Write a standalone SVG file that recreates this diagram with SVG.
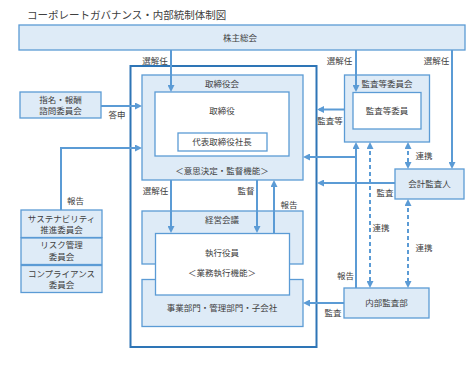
<svg xmlns="http://www.w3.org/2000/svg" width="474" height="368" viewBox="0 0 474 368">
<style>
text{font-family:"Noto Sans CJK JP","Noto Sans",sans-serif;font-size:8.5px;fill:#404040;text-anchor:middle}
.title{font-size:10.5px;text-anchor:start;fill:#404040}
.box{fill:#deebf7;stroke:#5b9bd5;stroke-width:1.3}
.wbox{fill:#ffffff;stroke:#5b9bd5;stroke-width:1.3}
.outer{fill:none;stroke:#2e75b6;stroke-width:2}
.arr{fill:none;stroke:#5b9bd5;stroke-width:2;marker-end:url(#ah)}
.dash{fill:none;stroke:#5b9bd5;stroke-width:2;stroke-dasharray:4 3;marker-start:url(#ah);marker-end:url(#ah)}
.lbl{font-size:8.5px}
</style>
<defs>
<marker id="ah" viewBox="0 0 7 7" markerWidth="7" markerHeight="7" refX="5" refY="3.5" orient="auto-start-reverse" markerUnits="userSpaceOnUse">
<path d="M0,0 L7,3.5 L0,7 z" fill="#5b9bd5"/>
</marker>
</defs>
<rect width="474" height="368" fill="#ffffff"/>
<text class="title" x="27" y="19">コーポレートガバナンス・内部統制体制図</text>

<g id="kabunushi">
<rect class="box" x="19" y="25" width="446" height="25"/>
<text x="240" y="40.5">株主総会</text>
</g>

<g id="outer-frame">
<rect class="outer" x="130.5" y="66" width="186" height="281"/>
</g>

<g id="torishimariyakukai">
<rect class="box" x="142" y="75" width="161" height="105"/>
<text x="222" y="87">取締役会</text>
<rect class="wbox" x="155" y="92" width="134" height="64"/>
<text x="222" y="114">取締役</text>
<rect class="wbox" x="178" y="133" width="89" height="18"/>
<text x="222" y="145">代表取締役社長</text>
<text x="222" y="173.5">＜意思決定・監督機能＞</text>
</g>

<g id="keiei-kaigi">
<rect class="box" x="142" y="211" width="161" height="53"/>
<text x="222" y="223">経営会議</text>
</g>

<g id="jigyo-bumon">
<rect class="box" x="142" y="279.5" width="161" height="47"/>
<text x="222" y="310.5">事業部門・管理部門・子会社</text>
</g>

<g id="shikko-yakuin">
<rect class="wbox" x="155.5" y="233.5" width="134" height="61.5"/>
<text x="222" y="256">執行役員</text>
<text x="222" y="276">＜業務執行機能＞</text>
</g>

<g id="shimei-hoshu">
<rect class="box" x="20" y="92" width="81" height="26"/>
<text x="60.5" y="103">指名・報酬</text>
<text x="60.5" y="114">諮問委員会</text>
</g>

<g id="sustainability">
<rect class="box" x="21" y="210" width="81" height="27.5"/>
<text x="61.5" y="222">サステナビリティ</text>
<text x="61.5" y="233">推進委員会</text>
</g>

<g id="risk">
<rect class="box" x="21" y="238" width="81" height="26.5"/>
<text x="61.5" y="248">リスク管理</text>
<text x="61.5" y="259.5">委員会</text>
</g>

<g id="compliance">
<rect class="box" x="21" y="265.5" width="81" height="27"/>
<text x="61.5" y="277">コンプライアンス</text>
<text x="61.5" y="287.5">委員会</text>
</g>

<g id="kansa-iinkai">
<rect class="box" x="344.5" y="75" width="85" height="67"/>
<text x="387" y="87.3">監査等委員会</text>
<rect class="wbox" x="353" y="92.5" width="68" height="36.5"/>
<text x="387" y="114">監査等委員</text>
</g>

<g id="kaikei-kansanin">
<rect class="box" x="395" y="169" width="69" height="30"/>
<text x="429.5" y="187">会計監査人</text>
</g>

<g id="naibu-kansabu">
<rect class="box" x="344" y="288" width="85" height="30"/>
<text x="386.5" y="305.7">内部監査部</text>
</g>

<g id="connectors">
<line class="arr" x1="171" y1="50" x2="171" y2="90"/>
<line class="arr" x1="356" y1="50" x2="356" y2="90"/>
<line class="arr" x1="452" y1="50" x2="452" y2="167"/>
<line class="arr" x1="101" y1="106" x2="140" y2="106"/>
<polyline class="arr" points="61,210 61,148 140,148"/>
<line class="arr" x1="344" y1="109.5" x2="319" y2="109.5"/>
<line class="arr" x1="356" y1="288" x2="356" y2="144"/>
<line class="arr" x1="356" y1="157" x2="305" y2="157"/>
<line class="dash" x1="370" y1="144" x2="370" y2="286"/>
<line class="dash" x1="408" y1="144" x2="408" y2="167"/>
<line class="dash" x1="408" y1="201" x2="408" y2="286"/>
<line class="arr" x1="395" y1="183" x2="319" y2="183"/>
<line class="arr" x1="344" y1="303" x2="305" y2="303"/>
<line class="arr" x1="171" y1="180" x2="171" y2="231"/>
<line class="arr" x1="257" y1="180" x2="257" y2="231"/>
<line class="arr" x1="274" y1="233" x2="274" y2="182"/>
</g>

<g id="labels">
<text class="lbl" x="155" y="64">選解任</text>
<text class="lbl" x="339.5" y="64">選解任</text>
<text class="lbl" x="436.5" y="64">選解任</text>
<text class="lbl" x="117" y="118">答申</text>
<text class="lbl" x="330" y="124">監査等</text>
<text class="lbl" x="424" y="159">連携</text>
<text class="lbl" x="385" y="196">監査</text>
<text class="lbl" x="155.5" y="194">選解任</text>
<text class="lbl" x="246" y="194">監督</text>
<text class="lbl" x="289" y="208">報告</text>
<text class="lbl" x="75.5" y="204">報告</text>
<text class="lbl" x="381" y="231">連携</text>
<text class="lbl" x="424" y="251">連携</text>
<text class="lbl" x="345.5" y="279">報告</text>
<text class="lbl" x="333" y="316">監査</text>
</g>
</svg>
